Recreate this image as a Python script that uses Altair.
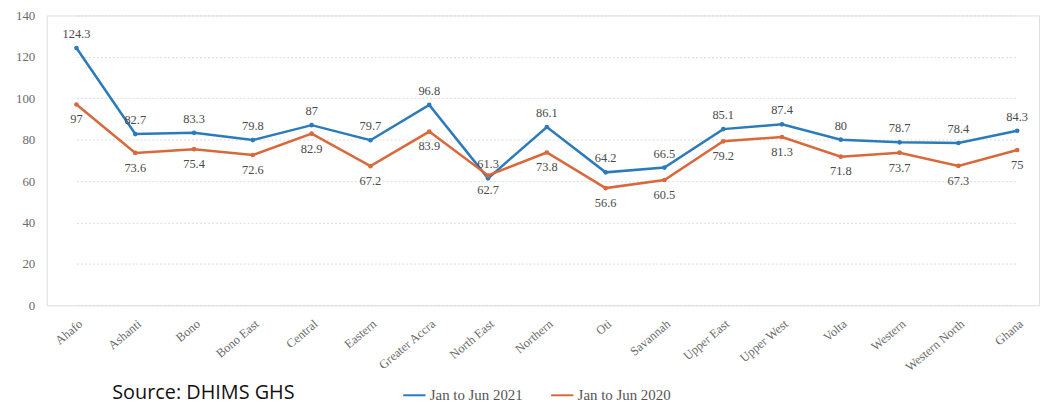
import altair as alt
import pandas as pd

regions = ["Ahafo", "Ashanti", "Bono", "Bono East", "Central", "Eastern",
           "Greater Accra", "North East", "Northern", "Oti", "Savannah",
           "Upper East", "Upper West", "Volta", "Western", "Western North", "Ghana"]
series_2021 = [124.3, 82.7, 83.3, 79.8, 87, 79.7, 96.8, 61.3, 86.1, 64.2, 66.5,
               85.1, 87.4, 80, 78.7, 78.4, 84.3]
series_2020 = [97, 73.6, 75.4, 72.6, 82.9, 67.2, 83.9, 62.7, 73.8, 56.6, 60.5,
               79.2, 81.3, 71.8, 73.7, 67.3, 75]
series_names = ["Jan to Jun 2021", "Jan to Jun 2020"]
series_colors = ["#2b7bba", "#d9683a"]
y_ticks = [0, 20, 40, 60, 80, 100, 120, 140]
source_note = "Source: DHIMS GHS"

rows = []
for r, v in zip(regions, series_2021):
    rows.append({"region": r, "series": series_names[0], "value": v})
for r, v in zip(regions, series_2020):
    rows.append({"region": r, "series": series_names[1], "value": v})
df = pd.DataFrame(rows)

serif = "Liberation Serif"

x_enc = alt.X("region:N", sort=regions,
              scale=alt.Scale(type="point", range=[30, 978], padding=0),
              axis=alt.Axis(title=None, labelAngle=-40, labelColor="#6b6b6b",
                            labelFont=serif, labelFontSize=12.5, labelPadding=12,
                            domain=False, ticks=False, grid=False))
y_enc = alt.Y("value:Q", scale=alt.Scale(domain=[0, 140], nice=False),
              axis=alt.Axis(title=None, values=y_ticks, labelColor="#6b6b6b",
                            labelFont=serif, labelFontSize=13, labelPadding=12,
                            domain=False, ticks=False, grid=True,
                            gridColor="#dcdcdc", gridDash=[2, 2], gridWidth=1))
color_enc = alt.Color("series:N",
                      scale=alt.Scale(domain=series_names, range=series_colors),
                      legend=alt.Legend(title=None, orient="none", legendX=358,
                                        legendY=370, direction="horizontal",
                                        labelFont=serif, labelFontSize=15,
                                        labelColor="#555555", symbolType="stroke",
                                        symbolSize=500, symbolStrokeWidth=2,
                                        columnPadding=24, labelOffset=3))

base = alt.Chart(df)

lines = base.mark_line(strokeWidth=2.5,
                       point=alt.OverlayMarkDef(size=22, filled=True)).encode(
    x=x_enc, y=y_enc, color=color_enc)

labels_top = base.transform_filter(
    alt.datum.series == series_names[0]
).mark_text(dy=-14, font=serif, fontSize=12.5, color="#4a4a4a").encode(
    x=alt.X("region:N", sort=regions), y="value:Q", text=alt.Text("value:Q"))

labels_bottom = base.transform_filter(
    alt.datum.series == series_names[1]
).mark_text(dy=15, font=serif, fontSize=12.5, color="#4a4a4a").encode(
    x=alt.X("region:N", sort=regions), y="value:Q", text=alt.Text("value:Q"))

note = alt.Chart(pd.DataFrame({"t": [source_note]})).mark_text(
    align="left", baseline="middle", font="Open Sans", fontSize=20, color="#111111"
).encode(x=alt.value(66), y=alt.value(380), text="t:N")

chart = alt.layer(lines, labels_top, labels_bottom, note).properties(
    width=1000, height=292,
    autosize=alt.AutoSizeParams(type="none"),
    padding={"left": 39, "top": 6, "right": 5, "bottom": 98},
).configure_view(stroke=None).configure(background="white")

chart.save("out.html", embed_options={"renderer": "svg", "actions": False})
